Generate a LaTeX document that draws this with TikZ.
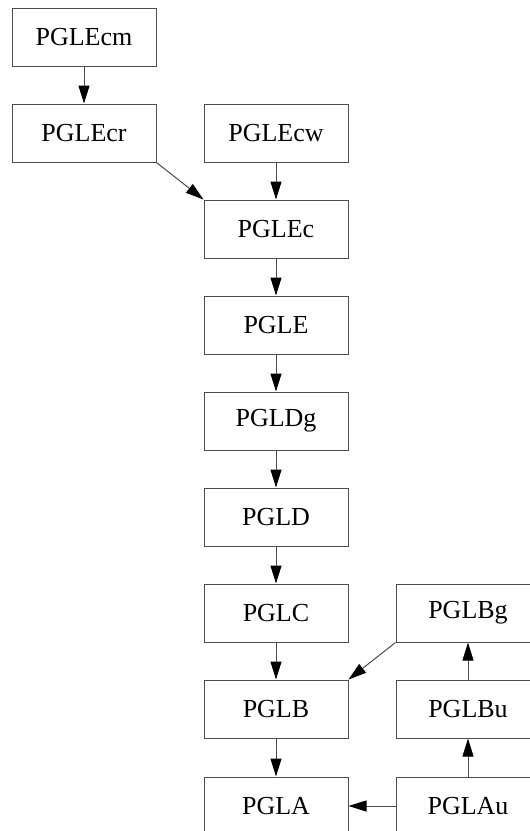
\documentclass[tikz,border=0pt]{standalone}
\usepackage{fontspec}
\setmainfont{Liberation Serif}
\usetikzlibrary{arrows.meta}
\begin{document}
\begin{tikzpicture}[x=1pt,y=-1pt,
  box/.style={draw=black!70, line width=1pt, minimum width=144pt,
    minimum height=58pt, inner sep=0pt, font=\fontsize{26}{30}\selectfont},
  edge/.style={draw=black!70, line width=1pt,
    -{Triangle[length=18pt,width=11pt,black]}}]
\useasboundingbox (0,0) rectangle (530,831);
\clip (0,0) rectangle (530,831);
\fill[white] (0,0) rectangle (530,831);
% left column
\node[box] (cm) at (84,37)  {PGLEcm};
\node[box] (cr) at (84,133) {PGLEcr};
% main column
\node[box] (cw) at (276,133) {PGLEcw};
\node[box] (c)  at (276,229) {PGLEc};
\node[box] (e)  at (276,325) {PGLE};
\node[box] (dg) at (276,421) {PGLDg};
\node[box] (d)  at (276,517) {PGLD};
\node[box] (lc) at (276,613) {PGLC};
\node[box] (lb) at (276,709) {PGLB};
\node[box] (la) at (276,806) {PGLA};
% right column
\node[box] (bg) at (468,613) {PGLBg};
\node[box] (bu) at (468,709) {PGLBu};
\node[box] (au) at (468,806) {PGLAu};
% edges
\draw[edge] (cm) -- (cr);
\draw[edge] (cr.south east) -- (c.north west);
\draw[edge] (cw) -- (c);
\draw[edge] (c) -- (e);
\draw[edge] (e) -- (dg);
\draw[edge] (dg) -- (d);
\draw[edge] (d) -- (lc);
\draw[edge] (lc) -- (lb);
\draw[edge] (lb) -- (la);
\draw[edge] (bg.south west) -- (lb.north east);
\draw[edge] (au) -- (bu);
\draw[edge] (bu) -- (bg);
\draw[edge] (au) -- (la);
\end{tikzpicture}
\end{document}
